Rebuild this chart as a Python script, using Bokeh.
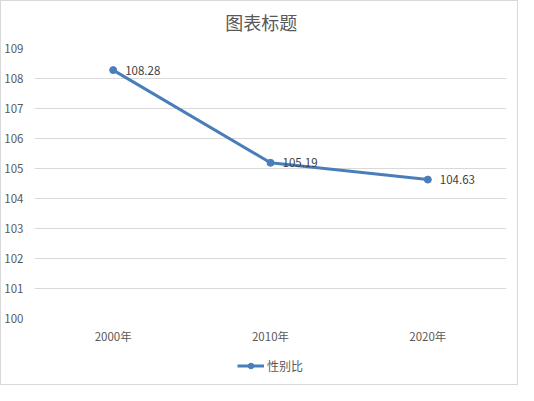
from bokeh.plotting import figure
from bokeh.layouts import column
from bokeh.models import Range1d, FixedTicker, Legend, LegendItem, ColumnDataSource, Label
from bokeh.core.properties import value
from bokeh.embed import file_html
from bokeh.resources import INLINE

categories = ["2000年", "2010年", "2020年"]
values = [108.28, 105.19, 104.63]
series_name = "性别比"
title_text = "图表标题"
y_ticks = [100, 101, 102, 103, 104, 105, 106, 107, 108, 109]

xs = list(range(len(categories)))
src = ColumnDataSource(dict(x=xs, y=values, lbl=[f"{v:.2f}" for v in values]))

CJK = "Noto Sans CJK SC"
BLUE = "#4A7EBB"
W = 516


def strip(h):
    f = figure(width=W, height=h, output_backend="svg", toolbar_location=None,
               x_range=Range1d(0, W), y_range=Range1d(0, h),
               x_axis_location=None, y_axis_location=None,
               min_border_left=0, min_border_right=0, min_border_top=0, min_border_bottom=0)
    f.outline_line_color = None
    f.xgrid.grid_line_color = None
    f.ygrid.grid_line_color = None
    return f


# title strip
top = strip(40)
top.add_layout(Label(x=248, y=20, text=title_text, text_align="center", text_baseline="middle",
                     text_font=CJK, text_font_size="18px", text_color="#595959"))

# main chart
p = figure(width=W, height=305, output_backend="svg", toolbar_location=None,
           x_range=Range1d(-0.5, len(categories) - 0.5), y_range=Range1d(100, 109),
           min_border_left=29, min_border_right=11, min_border_top=7, min_border_bottom=26)
p.outline_line_color = None
p.background_fill_color = "white"
p.border_fill_color = "white"

p.xaxis.ticker = FixedTicker(ticks=xs)
p.xaxis.major_label_overrides = {i: c for i, c in enumerate(categories)}
p.yaxis.ticker = FixedTicker(ticks=y_ticks)
for ax in (p.xaxis, p.yaxis):
    ax.axis_line_color = None
    ax.major_tick_line_color = None
    ax.minor_tick_line_color = None
    ax.major_tick_out = 0
    ax.major_tick_in = 0
    ax.major_label_text_color = "#595959"
    ax.major_label_text_font_size = "11.5px"
    ax.major_label_text_font = CJK
p.xaxis.major_label_standoff = 9
p.yaxis.major_label_standoff = 11
p.xgrid.grid_line_color = None
p.ygrid.grid_line_color = "#D9D9D9"
p.ygrid.grid_line_width = 1

ln = p.line("x", "y", source=src, line_color=BLUE, line_width=3)
sc = p.scatter("x", "y", source=src, size=7, fill_color=BLUE, line_color=BLUE)
p.text("x", "y", text="lbl", source=src, x_offset=12, text_baseline="middle",
       text_align="left", text_font=value(CJK), text_font_size="11.5px", text_color="#404040")

# legend strip below the chart
lg = strip(38)
off = ColumnDataSource(dict(x=[-10, -9], y=[-10, -10]))
lln = lg.line("x", "y", source=off, line_color=BLUE, line_width=3)
lsc = lg.scatter("x", "y", source=off, size=7, fill_color=BLUE, line_color=BLUE)
legend = Legend(items=[LegendItem(label=series_name, renderers=[lln, lsc])],
                location="center", orientation="horizontal",
                border_line_color=None, background_fill_alpha=0,
                padding=0, margin=0, spacing=0, glyph_width=27, glyph_height=14,
                label_standoff=3, label_text_font=CJK, label_text_font_size="12px",
                label_text_color="#595959", label_height=14)
lg.add_layout(legend, "center")

layout = column(top, p, lg, spacing=0)
layout.styles = {"border": "1px solid #D9D9D9"}

open("out.html", "w").write(file_html(layout, INLINE))
